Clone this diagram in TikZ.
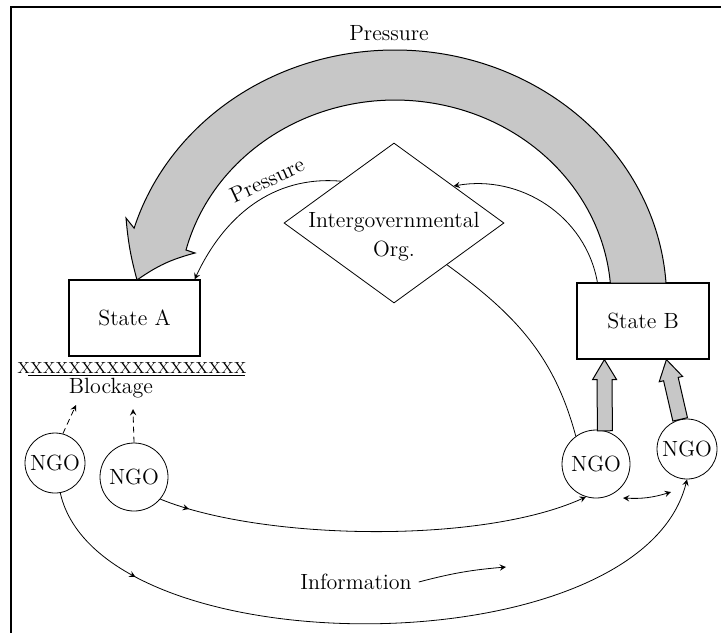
\documentclass[tikz,border=0pt]{standalone}
\usepackage{tikz}
\usetikzlibrary{shapes,arrows,calc,decorations.markings}

\tikzset{
  statebox/.style={draw, line width=0.6pt, minimum width=65.5pt, minimum height=38pt, inner sep=0pt},
  ngo/.style={draw, circle, inner sep=0pt, minimum size=#1},
  band/.style={fill=black!22, draw, line width=0.5pt},
  midarrow/.style={decoration={markings, mark=at position #1 with {\arrow{stealth}}}, postaction={decorate}},
}

\begin{document}
\begin{tikzpicture}[x=0.5pt, y=0.5pt, >=stealth, thin, font=\fontsize{11}{13}\selectfont]
\useasboundingbox (0,0) rectangle (721,-633);
\draw[line width=1.2pt] (721,-7) -- (11,-7) -- (11,-633);

\node[statebox] (sa) at (134.5,-318) {State A};
\node[statebox, minimum width=66pt] (sb) at (643,-321) {State B};
\node[draw, diamond, minimum width=110pt, minimum height=80pt, inner sep=0pt] (igo) at (394,-223) {};
\node[align=center, font=\fontsize{11}{14.5}\selectfont] (igotext) at (394,-237) {Intergovernmental\\Org.};

\node[ngo=30pt] (ngo1) at (55,-463) {NGO};
\node[ngo=34pt] (ngo2) at (134,-477) {NGO};
\node[ngo=34pt] (ngo3) at (596,-464) {NGO};
\node[ngo=30pt] (ngo4) at (687,-449) {NGO};

\node[font=\fontsize{8}{9}\selectfont, inner sep=0pt] (xs) at (132,-368) {XXXXXXXXXXXXXXXXXX};
\draw (28,-375) -- (245,-375);
\node (block) at (111,-388) {Blockage};
\coordinate (b1) at (76,-405);
\coordinate (b2) at (133,-409);
\draw[->, densely dashed] (ngo1.75) -- (b1);
\draw[->, densely dashed] (ngo2.north) -- (b2);

% big pressure band
\filldraw[band] (666,-283) arc[start angle=3.9, end angle=163.3, x radius=272, y radius=250]
  -- (126,-218) to[bend right=5] (137,-280) to[bend left=10] (195,-253)
  -- (186,-250) arc[start angle=165.5, end angle=4.9, x radius=216, y radius=200] -- cycle;
\node (ptop) at (389,-33) {Pressure};

\draw[->] ($(igo.west)!0.52!(igo.north)$) to[out=175, in=65] ([xshift=-3pt]sa.north east);
\node[rotate=25, inner sep=1pt] (pleft) at (267,-180) {Pressure};
\draw[->] ([xshift=10.5pt]sb.north west) to[out=100, in=10] ($(igo.north)!0.54!(igo.east)$);
\draw ($(igo.east)!0.52!(igo.south)$) to[out=-36, in=105] (ngo3.126);

% NGO pushes on State B
\coordinate (f3) at (ngo3.75);
\coordinate (t3) at ([xshift=14pt]sb.south west);
\coordinate (f4) at (ngo4.103);
\coordinate (t4) at ([xshift=45pt]sb.south west);
\foreach \f/\t in {f3/t3, f4/t4} {
  \coordinate (h) at ($(\t)!10pt!(\f)$);
  \filldraw[band] ($(\f)!3.75pt!-90:(\t)$) -- ($(h)!3.75pt!-90:(\t)$) -- ($(h)!6pt!-90:(\t)$)
    -- (\t) -- ($(h)!6pt!90:(\t)$) -- ($(h)!3.75pt!90:(\t)$) -- ($(\f)!3.75pt!90:(\t)$) -- cycle;
}

\draw[->, midarrow=0.07] (ngo2.-40) .. controls (260,-540) and (480,-545) .. (ngo3.-107);
\draw[->, midarrow=0.16] (ngo1.-80) .. controls (100,-669) and (640,-669) .. (ngo4.south);
\coordinate (d1) at (623,-498);
\coordinate (d2) at (671,-492);
\draw[<->] (d1) to[bend right=10] (d2);

\node (info) at (356,-582) {Information};
\coordinate (infoend) at (506,-567);
\draw[->] (info.east) to[bend left=5] (infoend);
\end{tikzpicture}
\end{document}
